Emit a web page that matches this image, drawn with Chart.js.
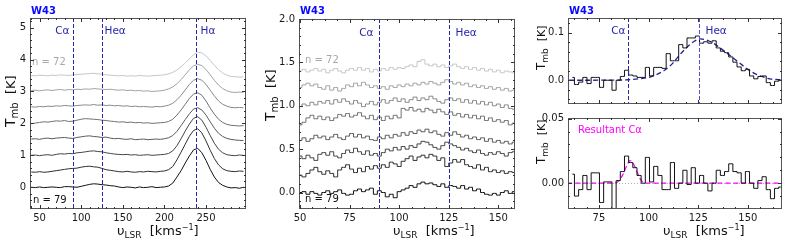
<!DOCTYPE html>
<html><head><meta charset="utf-8">
<script src="https://cdn.jsdelivr.net/npm/chart.js@4.4.0/dist/chart.umd.min.js"></script>
<style>
html,body{margin:0;padding:0;background:#fff;width:789px;height:245px;overflow:hidden;}
canvas{position:absolute;display:block;}
</style></head><body>
<canvas id="c1" width="262" height="245" style="left:0px;top:0px;width:262px;height:245px"></canvas>
<canvas id="c2" width="266" height="245" style="left:262px;top:0px;width:266px;height:245px"></canvas>
<canvas id="c3" width="261" height="114" style="left:528px;top:0px;width:261px;height:114px"></canvas>
<canvas id="c4" width="261" height="145" style="left:528px;top:100px;width:261px;height:145px"></canvas>
<script>
// ---------------- DATA ----------------
const sourceName = 'W43';
const lineNames = ['Cα', 'Heα', 'Hα'];
const lineVels = [89.8, 125.3, 237.6];
const specLabels = ['n = 79', 'n = 78', 'n = 77', 'n = 76', 'n = 75', 'n = 74', 'n = 73', 'n = 72'];
const greys = ['#111111', '#2e2e2e', '#444444', '#5a5a5a', '#707070', '#888888', '#a2a2a2', '#c6c6c6'];

// Panel 1: stacked spectra (wide range)
const vel1 = [40,45,50,55,60,65,70,75,80,85,90,95,100,105,110,115,120,125,130,135,140,145,150,155,160,165,170,175,180,185,190,195,200,205,210,215,220,225,230,235,240,245,250,255,260,265,270,275,280,285,290,295];
const offsets1 = [0, 0.5, 1.0, 1.5, 2.0, 2.5, 3.0, 3.5];
const p1_n79 = [0.00,-0.01,0.01,-0.01,0.00,0.01,0.00,-0.01,0.02,0.02, 0.01,0.00,0.03,0.06,0.09,0.11,0.10,0.08,0.07,0.05, 0.04,0.01,-0.01,0.01,0.00,-0.02,0.01,-0.01,0.00,0.02, -0.01,0.00,0.01,0.04,0.13,0.32,0.52,0.76,0.98,1.17, 1.22,1.08,0.84,0.56,0.32,0.15,0.06,0.01,-0.02,-0.01, -0.03,0.00];
const p1_n78 = [-0.02,-0.03,-0.01,-0.03,-0.02,0.00,0.02,0.04,0.06,0.08, 0.09,0.10,0.13,0.15,0.16,0.14,0.13,0.09,0.05,0.03, 0.01,-0.01,-0.02,0.00,-0.02,-0.03,-0.01,-0.02,0.00,-0.01, -0.02,0.00,0.01,0.05,0.15,0.36,0.60,0.85,1.10,1.28, 1.33,1.20,0.95,0.66,0.40,0.20,0.08,0.02,0.00,-0.01, 0.01,0.00];
const p1_n77 = [0.00,0.01,-0.01,0.01,0.02,0.00,0.03,0.05,0.04,0.06, 0.05,0.08,0.09,0.11,0.13,0.14,0.12,0.11,0.08,0.06, 0.04,0.03,0.02,0.03,0.01,0.02,0.00,0.01,0.02,0.00, 0.01,0.02,0.03,0.06,0.14,0.30,0.52,0.76,0.98,1.16, 1.21,1.10,0.88,0.62,0.38,0.19,0.08,0.02,0.00,-0.01, 0.01,0.00];
const p1_n76 = [0.01,0.02,0.00,0.03,0.04,0.02,0.04,0.05,0.06,0.04, 0.03,0.06,0.08,0.10,0.11,0.09,0.08,0.06,0.07,0.04, 0.02,0.03,0.01,0.00,0.02,-0.01,0.00,0.01,-0.01,0.00, 0.01,0.00,0.02,0.05,0.12,0.25,0.43,0.62,0.80,0.95, 0.99,0.92,0.76,0.55,0.35,0.19,0.09,0.03,0.00,-0.02, -0.03,-0.04];
const p1_n75 = [-0.01,0.01,0.03,0.05,0.04,0.06,0.08,0.07,0.09,0.06, 0.07,0.10,0.13,0.15,0.14,0.13,0.12,0.10,0.09,0.07, 0.06,0.04,0.05,0.03,0.04,0.02,0.03,0.01,0.02,0.00, 0.01,0.02,0.03,0.06,0.13,0.26,0.42,0.60,0.78,0.92, 0.96,0.88,0.70,0.48,0.29,0.13,0.03,-0.03,-0.06,-0.07, -0.08,-0.07];
const p1_n74 = [0.02,0.01,0.03,0.02,0.04,0.03,0.05,0.04,0.06,0.05, 0.04,0.06,0.07,0.08,0.07,0.09,0.07,0.08,0.06,0.07, 0.05,0.06,0.04,0.05,0.03,0.04,0.02,0.03,0.02,0.01, 0.03,0.02,0.04,0.07,0.13,0.24,0.38,0.55,0.72,0.85, 0.90,0.85,0.72,0.54,0.36,0.20,0.10,0.04,0.00,-0.01, 0.00,-0.01];
const p1_n73 = [0.03,0.04,0.02,0.04,0.05,0.03,0.05,0.06,0.04,0.06, 0.05,0.07,0.06,0.08,0.07,0.09,0.08,0.07,0.06,0.07, 0.05,0.04,0.05,0.03,0.04,0.02,0.03,0.01,0.02,0.00, 0.01,0.02,0.04,0.08,0.14,0.24,0.37,0.52,0.68,0.80, 0.85,0.81,0.69,0.52,0.35,0.20,0.09,0.02,-0.02,-0.03, -0.02,-0.03];
const p1_n72 = [0.00,-0.01,0.01,0.00,-0.01,0.01,0.00,0.02,0.01,0.00, 0.02,0.03,0.04,0.05,0.06,0.07,0.05,0.04,0.02,0.01, 0.00,-0.01,0.00,-0.02,-0.01,-0.02,0.00,-0.01,-0.02,-0.01, 0.00,0.01,0.02,0.05,0.10,0.17,0.27,0.39,0.52,0.65, 0.73,0.71,0.61,0.47,0.32,0.18,0.08,0.01,-0.03,-0.04, -0.05,-0.04];
const xTicks1 = [50, 100, 150, 200, 250];
const xTickLabels1 = ['50', '100', '150', '200', '250'];
const yTicks1 = [0, 1, 2, 3, 4, 5];
const yTickLabels1 = ['0', '1', '2', '3', '4', '5'];

// Panel 2: stacked spectra (zoom on Cα / Heα)
const vel2 = [50,52,54,56,58,60,62,64,66,68,70,72,74,76,78,80,82,84,86,88,90,92,94,96,98,100,102,104,106,108,110,112,114,116,118,120,122,124,126,128,130,132,134,136,138,140,142,144,146,148,150,152,154,156,158];
const offsets2 = [0, 0.2, 0.4, 0.6, 0.8, 1.0, 1.2, 1.4];
const p2_n79 = [0.00,0.01,-0.02,0.01,-0.01,-0.03,0.00,0.02,-0.01,0.01, 0.03,-0.01,-0.03,-0.02,0.02,0.04,0.01,0.03,0.05,-0.02, 0.02,0.00,-0.05,-0.02,-0.06,0.01,0.03,0.05,0.08,0.06, 0.10,0.12,0.10,0.11,0.09,0.07,0.10,0.06,0.08,0.07, 0.05,0.08,0.04,0.06,0.02,0.04,0.00,-0.02,-0.03,-0.01, -0.03,0.00,0.02,-0.01,0.01];
const p2_n78 = [0.00,-0.02,0.02,0.06,0.09,0.04,0.01,0.05,0.02,-0.02, 0.06,0.09,0.12,0.07,0.03,0.08,0.04,0.10,0.07,0.11, 0.08,0.12,0.09,0.15,0.13,0.10,0.16,0.19,0.22,0.17, 0.21,0.23,0.20,0.24,0.22,0.17,0.20,0.10,0.14,0.18, 0.15,0.18,0.12,0.10,0.08,0.12,0.06,0.09,0.04,0.06, 0.03,0.05,0.02,0.04,0.03];
const p2_n77 = [0.02,-0.01,0.03,0.00,-0.03,0.04,0.06,0.03,0.07,0.02, 0.00,0.05,0.09,0.06,0.11,0.07,0.04,0.08,0.03,0.05, 0.02,0.06,0.10,0.08,0.12,0.09,0.13,0.10,0.14,0.12, 0.16,0.19,0.18,0.15,0.12,0.10,0.14,0.18,0.16,0.14, 0.12,0.09,0.11,0.08,0.06,0.09,0.05,0.03,0.06,0.04, 0.07,0.05,0.02,0.06,0.07];
const p2_n76 = [0.00,0.03,-0.01,0.02,0.06,0.03,0.05,0.01,0.04,0.07, 0.03,0.01,0.05,0.08,0.04,0.07,0.03,0.05,0.01,0.00, 0.04,0.02,0.06,0.03,0.07,0.05,0.09,0.06,0.10,0.08, 0.12,0.10,0.13,0.09,0.11,0.07,0.05,0.09,0.06,0.10, 0.07,0.04,0.06,0.02,0.04,0.01,0.03,-0.01,0.02,-0.02, 0.00,-0.03,-0.01,-0.04,-0.02];
const p2_n75 = [-0.02,0.01,0.06,0.09,0.05,0.08,0.04,0.07,0.03,0.06, 0.10,0.08,0.11,0.07,0.09,0.12,0.08,0.05,0.09,0.04, 0.07,0.03,0.08,0.05,0.09,0.06,0.17,0.15,0.18,0.14, 0.16,0.13,0.17,0.15,0.12,0.16,0.13,0.10,0.13,0.09, 0.11,0.07,0.10,0.06,0.09,0.05,0.08,0.03,0.06,0.02, 0.04,0.01,0.03,-0.02,0.00];
const p2_n74 = [-0.01,0.02,0.00,0.04,0.01,0.05,0.03,0.06,0.02,0.07, 0.04,0.08,0.05,0.02,0.06,0.03,-0.01,0.02,0.05,0.01, 0.04,0.07,0.03,0.06,0.09,0.05,0.08,0.04,0.07,0.10, 0.06,0.09,0.07,0.11,0.08,0.05,0.03,0.07,0.09,0.06, 0.08,0.04,0.07,0.03,0.06,0.02,0.05,0.01,0.04,0.00, 0.02,-0.02,0.01,-0.03,-0.04];
const p2_n73 = [0.01,0.04,0.06,0.03,0.05,0.01,-0.01,0.03,-0.02,0.01, -0.03,0.00,0.04,0.02,0.06,0.03,0.07,0.04,0.01,0.03, 0.00,0.02,-0.01,0.03,0.01,0.04,0.02,0.05,0.03,0.06, 0.04,0.07,0.05,0.08,0.06,0.04,0.07,0.10,0.08,0.05, 0.07,0.04,0.06,0.02,0.04,0.01,0.03,0.00,0.02,-0.01, 0.01,-0.02,0.00,-0.03,-0.02];
const p2_n72 = [0.00,0.02,-0.01,0.01,0.03,0.00,0.02,-0.02,0.01,0.03, 0.00,-0.02,0.01,0.03,0.01,0.04,0.01,0.03,-0.01,0.02, 0.00,0.03,0.01,0.04,0.02,0.04,0.03,0.05,0.07,0.05, 0.11,0.13,0.08,0.06,0.08,0.05,0.07,0.04,0.06,0.08, 0.05,0.03,0.05,0.02,0.04,0.01,0.03,0.00,0.02,-0.01, 0.01,-0.02,0.00,-0.01,-0.02];
const xTicks2 = [50, 75, 100, 125, 150];
const xTickLabels2 = ['50', '75', '100', '125', '150'];
const yTicks2 = [0, 0.5, 1.0, 1.5, 2.0];
const yTickLabels2 = ['0.0', '0.5', '1.0', '1.5', '2.0'];

// Panels 3 & 4: averaged spectrum, Heα fit and residual
const vel3 = [61.6,63.7,65.8,67.9,70.0,72.1,74.2,76.3,78.4,80.5, 82.6,84.7,86.8,88.9,91.0,93.1,95.2,97.3,99.4,101.5, 103.6,105.7,107.8,109.9,112.0,114.1,116.2,118.3,120.4,122.5, 124.6,126.7,128.8,130.9,133.0,135.1,137.2,139.3,141.4,143.5, 145.6,147.7,149.8,151.9,154.0,156.1,158.2,160.3,162.4,164.5, 166.6];
const avgSpec = [0.006,-0.009,-0.004,0.006,-0.007,0.006,0.006,-0.015,0.000,0.000, -0.021,0.000,0.008,0.021,0.011,0.009,0.006,0.006,0.027,0.009, 0.027,0.027,0.025,0.056,0.041,0.041,0.075,0.068,0.089,0.089, 0.093,0.078,0.081,0.078,0.083,0.068,0.061,0.058,0.049,0.038, 0.028,0.020,0.023,0.009,0.003,0.008,0.009,-0.005,-0.011,-0.002, 0.000];
const heFitVel = [60, 70, 80, 90, 95, 100, 104, 108, 112, 116, 120, 123, 126, 129, 133, 137, 141, 145, 149, 153, 157, 161, 168];
const heFitVal = [0, 0, 0.0003, 0.001, 0.003, 0.006, 0.012, 0.021, 0.035, 0.055, 0.072, 0.082, 0.087, 0.085, 0.077, 0.065, 0.052, 0.039, 0.026, 0.015, 0.008, 0.003, 0.001];
const residSpec = [0.007,-0.010,-0.005,0.006,-0.005,0.008,0.008,-0.015,0.001,0.001, -0.025,0.002,0.009,0.021,0.016,0.012,0.006,0.000,0.020,0.001, 0.013,0.006,-0.005,-0.005,0.016,-0.004,0.000,0.010,-0.001,0.012, 0.000,0.006,0.000,-0.006,0.000,0.010,0.006,0.009,0.015,0.009, 0.008,0.000,0.009,0.000,-0.004,0.002,0.005,-0.005,-0.012,-0.004, -0.003];
const cFitVel = [59, 83, 85, 87, 89, 90.6, 92, 94, 95.5, 97.3, 99, 168];
const cFitVal = [0, 0, 0.002, 0.0065, 0.0135, 0.0175, 0.016, 0.0095, 0.004, 0.0005, 0, 0];
const xTicks3 = [75, 100, 125, 150];
const xTickLabels3 = ['75', '100', '125', '150'];
const yTicks3 = [0, 0.1];
const yTickLabels3 = ['0.0', '0.1'];
const yTicks4 = [0, 0.05];
const yTickLabels4 = ['0.00', '0.05'];

// ---------------- DRAWING HELPERS ----------------
const FAM = 'DejaVu Sans';
const FONT = '"DejaVu Sans", sans-serif';
const LINECOL = '#2626ac';

function seq(a, b, s) { const o = []; for (let v = a; v <= b + 1e-9; v += s) o.push(+v.toFixed(6)); return o; }

function axis(min, max, ticks, labels, size, horiz, show) {
  return {
    type: 'linear', min: min, max: max,
    grid: { display: false, drawTicks: false },
    border: { display: false },
    ticks: {
      display: show, font: { family: FAM, size: 10 }, color: '#1a1a1a',
      padding: horiz ? 3 : 4, maxRotation: 0, autoSkip: false,
      callback: (v, i) => labels[i]
    },
    afterBuildTicks: s => { s.ticks = ticks.map(v => ({ value: v })); },
    afterFit: s => { if (horiz) s.height = size; else s.width = size; }
  };
}

function parts(ctx, list, x, y) {
  let cx = x;
  list.forEach(([t, sz, dy]) => { ctx.font = sz + 'px ' + FONT; ctx.fillText(t, cx, y + dy); cx += ctx.measureText(t).width; });
}

function makeDecor(cfg) {
  return {
    id: 'decor',
    beforeDatasetsDraw(chart) {
      if (!cfg.zeroLine) return;
      const ctx = chart.ctx, ca = chart.chartArea, ys = chart.scales.y;
      const py = Math.round(ys.getPixelForValue(0)) + 0.5;
      ctx.save(); ctx.strokeStyle = '#b0b0b0'; ctx.lineWidth = 1; ctx.setLineDash([1, 2]);
      ctx.beginPath(); ctx.moveTo(ca.left, py); ctx.lineTo(ca.right, py); ctx.stroke(); ctx.restore();
    },
    afterDatasetsDraw(chart) {
      const ctx = chart.ctx, ca = chart.chartArea, xs = chart.scales.x, ys = chart.scales.y;
      ctx.save();
      (cfg.vlines || []).forEach(l => {
        const px = Math.round(xs.getPixelForValue(l.v)) + 0.5;
        ctx.strokeStyle = l.color || LINECOL; ctx.lineWidth = 1; ctx.setLineDash([4, 2]);
        ctx.beginPath(); ctx.moveTo(px, ca.top); ctx.lineTo(px, ca.bottom); ctx.stroke();
        if (l.label) {
          ctx.setLineDash([]);
          ctx.font = '10.5px ' + FONT; ctx.fillStyle = LINECOL; ctx.textBaseline = 'middle';
          ctx.textAlign = l.side === 'left' ? 'right' : 'left';
          ctx.fillText(l.label, px + (l.side === 'left' ? -l.gap : l.gap), ys.getPixelForValue(l.ly));
        }
      });
      ctx.setLineDash([]);
      (cfg.texts || []).forEach(t => {
        ctx.font = (t.size || 10) + 'px ' + FONT; ctx.fillStyle = t.color; ctx.textAlign = 'left'; ctx.textBaseline = 'middle';
        ctx.fillText(t.t, xs.getPixelForValue(t.x), ys.getPixelForValue(t.y));
      });
      ctx.restore();
    },
    afterDraw(chart) {
      const ctx = chart.ctx, ca = chart.chartArea, xs = chart.scales.x, ys = chart.scales.y;
      ctx.save();
      ctx.strokeStyle = '#555'; ctx.lineWidth = 1;
      ctx.strokeRect(Math.round(ca.left) + 0.5, Math.round(ca.top) + 0.5, Math.round(ca.right - ca.left) - 1, Math.round(ca.bottom - ca.top) - 1);
      ctx.strokeStyle = '#333';
      const tk = (vals, len, isX) => {
        vals.forEach(v => {
          if (isX) {
            const p = Math.round(xs.getPixelForValue(v)) + 0.5;
            if (p <= ca.left + 1 || p >= ca.right - 1) return;
            ctx.beginPath(); ctx.moveTo(p, ca.bottom); ctx.lineTo(p, ca.bottom - len);
            ctx.moveTo(p, ca.top); ctx.lineTo(p, ca.top + len); ctx.stroke();
          } else {
            const p = Math.round(ys.getPixelForValue(v)) + 0.5;
            if (p <= ca.top + 1 || p >= ca.bottom - 1) return;
            ctx.beginPath(); ctx.moveTo(ca.left, p); ctx.lineTo(ca.left + len, p);
            ctx.moveTo(ca.right, p); ctx.lineTo(ca.right - len, p); ctx.stroke();
          }
        });
      };
      tk(cfg.xMinor, 2, true); tk(cfg.xMajor, 4, true);
      tk(cfg.yMinor, 2, false); tk(cfg.yMajor, 4, false);
      ctx.fillStyle = '#0a0aff'; ctx.textAlign = 'left'; ctx.textBaseline = 'middle';
      if (cfg.title) { ctx.font = 'bold 10px ' + FONT; ctx.fillText(cfg.title, ca.left + 1, 11); }
      ctx.fillStyle = '#111'; ctx.textBaseline = 'alphabetic';
      if (cfg.yTitle) {
        const s = cfg.yTitle[2];
        ctx.save(); ctx.translate(cfg.yTitle[0], cfg.yTitle[1]); ctx.rotate(-Math.PI / 2);
        parts(ctx, [['T', s[0], 0], ['mb', s[1], 3], ['  [K]', s[2], 0]], 0, 0);
        ctx.restore();
      }
      if (cfg.xTitle) {
        parts(ctx, [['υ', 13, 0], ['LSR', 9, 3], ['  [kms', 13, 0], ['−1', 8, -5], [']', 13, 0]], cfg.xTitle[0], cfg.xTitle[1]);
      }
      ctx.restore();
    }
  };
}

function baseOpts(pad, xAx, yAx) {
  return {
    responsive: false, animation: false, events: [],
    layout: { padding: pad, autoPadding: false },
    plugins: { legend: { display: false }, tooltip: { enabled: false } },
    elements: { point: { radius: 0 }, line: { borderWidth: 1, tension: 0 } },
    scales: { x: xAx, y: yAx }
  };
}

function stacked(vel, specs, offsets, stepped) {
  return specs.map((s, i) => ({
    data: vel.map((v, j) => ({ x: v, y: s[j] + offsets[i] })),
    borderColor: greys[i], borderWidth: 1, pointRadius: 0, stepped: stepped, fill: false
  }));
}

const bigTitle = [14, 10, 13];
const smallTitle = [12, 9, 11];

// ---------------- PANEL 1 ----------------
new Chart(document.getElementById('c1'), {
  type: 'line',
  data: { datasets: stacked(vel1, [p1_n79, p1_n78, p1_n77, p1_n76, p1_n75, p1_n74, p1_n73, p1_n72], offsets1, false).reverse() },
  options: baseOpts({ left: 0, top: 18, right: 16, bottom: 0 },
    axis(38.5, 298, xTicks1, xTickLabels1, 36, true, true),
    axis(-0.68, 5.3, yTicks1, yTickLabels1, 30, false, true)),
  plugins: [makeDecor({
    title: sourceName,
    xMajor: xTicks1, xMinor: seq(40, 290, 10), yMajor: yTicks1, yMinor: seq(-0.6, 5.2, 0.2),
    vlines: [
      { v: 89.6, label: lineNames[0], side: 'left', gap: 4, ly: 4.89 },
      { v: lineVels[1], label: lineNames[1], side: 'right', gap: 2, ly: 4.89 },
      { v: lineVels[2], label: lineNames[2], side: 'right', gap: 4, ly: 4.89 }
    ],
    texts: [
      { t: specLabels[7], x: 40.9, y: 3.92, color: '#a8a8a8' },
      { t: specLabels[0], x: 42.0, y: -0.41, color: '#111' }
    ],
    yTitle: [15, 127, bigTitle], xTitle: [117, 235]
  })]
});

// ---------------- PANEL 2 ----------------
new Chart(document.getElementById('c2'), {
  type: 'line',
  data: { datasets: stacked(vel2, [p2_n79, p2_n78, p2_n77, p2_n76, p2_n75, p2_n74, p2_n73, p2_n72], offsets2, 'middle').reverse() },
  options: baseOpts({ left: 0, top: 19, right: 13, bottom: 0 },
    axis(49.5, 158.4, xTicks2, xTickLabels2, 36, true, true),
    axis(-0.19, 2.0, yTicks2, yTickLabels2, 37, false, true)),
  plugins: [makeDecor({
    title: sourceName,
    xMajor: xTicks2, xMinor: seq(50, 156.25, 6.25), yMajor: yTicks2, yMinor: seq(-0.1, 1.9, 0.1),
    vlines: [
      { v: lineVels[0], label: lineNames[0], side: 'left', gap: 6, ly: 1.833 },
      { v: lineVels[1], label: lineNames[1], side: 'right', gap: 6, ly: 1.833 }
    ],
    texts: [
      { t: specLabels[7], x: 52.5, y: 1.527, color: '#a8a8a8' },
      { t: specLabels[0], x: 52.5, y: -0.075, color: '#111' }
    ],
    yTitle: [13, 121, bigTitle], xTitle: [131, 235]
  })]
});

// ---------------- PANEL 3 ----------------
new Chart(document.getElementById('c3'), {
  type: 'line',
  data: { datasets: [
    { data: vel3.map((v, j) => ({ x: v, y: avgSpec[j] })), borderColor: '#111', borderWidth: 1, stepped: 'middle', pointRadius: 0 },
    { data: heFitVel.map((v, j) => ({ x: v, y: heFitVal[j] })), borderColor: '#1f1f9a', borderWidth: 1.3, borderDash: [5, 3], cubicInterpolationMode: 'monotone', pointRadius: 0 }
  ] },
  options: baseOpts({ left: 0, top: 18, right: 7, bottom: 0 },
    axis(59.4, 167.2, xTicks3, xTickLabels3, 5, true, false),
    axis(-0.05, 0.131, yTicks3, yTickLabels3, 40, false, true)),
  plugins: [makeDecor({
    title: sourceName,
    xMajor: xTicks3, xMinor: seq(62.5, 162.5, 6.25), yMajor: yTicks3, yMinor: seq(-0.04, 0.12, 0.02),
    vlines: [
      { v: lineVels[0], label: lineNames[0], side: 'left', gap: 3, ly: 0.104 },
      { v: lineVels[1], label: lineNames[1], side: 'right', gap: 6, ly: 0.104, color: '#5050d4' }
    ],
    yTitle: [17, 70, smallTitle]
  })]
});

// ---------------- PANEL 4 ----------------
new Chart(document.getElementById('c4'), {
  type: 'line',
  data: { datasets: [
    { data: vel3.map((v, j) => ({ x: v, y: residSpec[j] })), borderColor: '#111', borderWidth: 1, stepped: 'middle', pointRadius: 0 },
    { data: cFitVel.map((v, j) => ({ x: v, y: cFitVal[j] })), borderColor: '#ff00ff', borderWidth: 1.3, borderDash: [5, 3], cubicInterpolationMode: 'monotone', pointRadius: 0 }
  ] },
  options: baseOpts({ left: 0, top: 18, right: 7, bottom: 0 },
    axis(59.4, 167.2, xTicks3, xTickLabels3, 36, true, true),
    axis(-0.02, 0.0505, yTicks4, yTickLabels4, 40, false, true)),
  plugins: [makeDecor({
    zeroLine: true,
    xMajor: xTicks3, xMinor: seq(62.5, 162.5, 6.25), yMajor: yTicks4, yMinor: seq(-0.01, 0.04, 0.01),
    texts: [ { t: 'Resultant Cα', x: 64.4, y: 0.0408, color: '#ff00ff' } ],
    yTitle: [17, 64, smallTitle], xTitle: [135, 135]
  })]
});
</script>
</body></html>
